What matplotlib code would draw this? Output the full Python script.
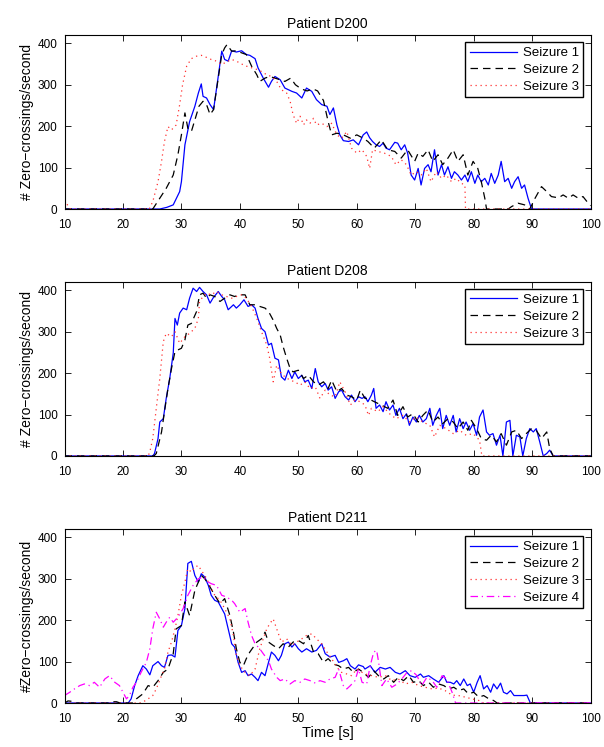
import matplotlib
matplotlib.use("Agg")
import matplotlib.pyplot as plt

plt.rcParams['font.family'] = ['Liberation Sans', 'DejaVu Sans']

# ---- Patient D200 ----
d200_s1_t = [10, 26.3, 27.5, 28.6, 29.7, 30, 30.6, 31.4, 32.3, 32.9, 33.4, 33.7, 34.3, 34.9, 35.5, 36.1, 36.9, 37.4, 38, 38.6,
             39.4, 40.3, 41.1, 41.7, 42.6, 43.1, 44, 44.9, 45.4, 46, 46.9, 47.7, 48.9, 49.7, 50.6, 51.4, 52.3, 53.1, 54, 54.9,
             55.4, 56, 56.6, 57.1, 57.7, 58.6, 59.4, 60.3, 61.1, 61.7, 62.2, 62.7, 63.3, 63.9, 64.5, 65, 65.6, 66.5, 67, 67.6,
             68.2, 68.7, 69.3, 69.9, 70.5, 71, 71.6, 72.2, 72.7, 73.3, 73.9, 74.5, 75, 75.6, 76.2, 76.7, 77.3, 77.9, 78.5, 79,
             79.6, 80.2, 80.7, 81.3, 81.9, 82.5, 83, 83.6, 84.2, 84.7, 85.3, 85.9, 86.5, 87, 87.6, 88.2, 88.7, 89.3, 89.9, 100]
d200_s1_v = [0, 0, 4, 10, 42, 66, 155, 211, 248, 280, 302, 272, 268, 252, 240, 300, 381, 361, 357, 382,
             379, 382, 373, 371, 363, 341, 316, 294, 308, 320, 312, 292, 284, 280, 268, 292, 284, 264, 252, 248,
             228, 244, 203, 179, 165, 163, 167, 155, 179, 186, 172, 163, 155, 151, 159, 147, 143, 161, 159, 143,
             155, 135, 82, 70, 98, 58, 98, 107, 90, 143, 82, 107, 82, 102, 74, 90, 82, 70, 82, 66,
             90, 62, 82, 66, 74, 58, 86, 62, 82, 115, 66, 74, 50, 66, 78, 50, 58, 26, 0, 0]

d200_s2_t = [10, 25.1, 26.3, 27.4, 28.6, 29.4, 30, 30.6, 31.1, 31.7, 32.3, 33, 33.7, 34.3, 34.9, 35.5, 36.3, 36.9, 37.4, 37.8,
             38.6, 39.4, 40.3, 41.1, 42, 42.9, 43.4, 44.3, 45.1, 46, 46.9, 47.7, 48.7, 49.5, 50.5, 51.5, 52.5, 53.3, 54.3, 55.1,
             55.7, 56.6, 57.7, 58.9, 60, 61.1, 61.9, 63, 64.2, 65.3, 66.5, 67.6, 68.7, 69.9, 70.5, 71.3, 72.2, 73, 73.9, 74.7,
             75.6, 76.5, 77.3, 78.2, 79, 79.9, 80.7, 81.3, 81.9, 82.2, 85.9, 86.5, 87.6, 88.7, 89.6, 90.5, 91.6, 92.5, 93.3, 94.5,
             95.3, 96.2, 97, 97.9, 98.7, 99.6, 100]
d200_s2_v = [0, 0, 26, 50, 82, 131, 179, 232, 195, 187, 215, 248, 260, 252, 228, 240, 316, 373, 389, 397,
             381, 382, 377, 373, 345, 324, 308, 316, 320, 316, 312, 308, 316, 300, 290, 285, 290, 285, 262, 211,
             179, 183, 179, 171, 179, 171, 163, 147, 167, 143, 139, 123, 143, 115, 135, 127, 143, 115, 131, 107,
             123, 143, 115, 131, 82, 115, 98, 66, 26, 0, 0, 6, 14, 10, 0, 26, 54, 42, 30, 27,
             34, 26, 34, 26, 30, 14, 8]

d200_s3_t = [10, 10.5, 11, 24.5, 25.1, 26, 26.6, 27.1, 27.7, 28.3, 29.1, 29.7, 30.2, 30.9, 31.7, 32.6, 33.4, 34.3, 35.1, 36,
             36.9, 37.7, 38.6, 39.4, 40.3, 41.1, 42, 42.9, 43.7, 44.6, 45.4, 46.3, 47.1, 48, 48.6, 49.1, 49.7, 50.3, 50.9, 51.4,
             52, 52.6, 53.1, 54, 54.9, 55.7, 56.6, 57.4, 58.3, 59.1, 60, 60.9, 61.7, 62.2, 62.7, 63.6, 64.7, 65.9, 66.7, 67.6,
             68.5, 69.3, 70.2, 71, 71.9, 72.7, 73.6, 74.5, 75.3, 76.2, 77, 77.9, 78.5, 78.6, 100]
d200_s3_v = [22, 10, 0, 0, 18, 66, 115, 163, 199, 191, 203, 252, 300, 345, 363, 369, 371, 366, 361, 357,
             349, 355, 361, 357, 350, 345, 341, 337, 332, 324, 320, 308, 288, 280, 260, 228, 207, 224, 203, 215,
             207, 219, 203, 207, 199, 207, 179, 171, 187, 147, 135, 143, 127, 98, 143, 139, 135, 127, 107, 119,
             107, 82, 90, 82, 98, 66, 90, 74, 82, 66, 74, 62, 58, 0, 0]

# ---- Patient D208 ----
d208_s1_t = [10, 25.1, 25.4, 26, 26.3, 26.9, 27.4, 28, 28.6, 28.9, 29.3, 29.7, 30.3, 30.9, 31.4, 32, 32.6, 33.1, 33.7, 34.3,
             34.9, 35.4, 36.3, 36.9, 37.4, 38, 38.9, 39.4, 40, 40.7, 41.4, 42, 42.6, 43.1, 43.7, 44.3, 44.9, 45.4, 46, 46.6,
             47.1, 47.7, 48.3, 48.9, 49.4, 50, 50.6, 51.1, 51.7, 52.3, 52.9, 53.4, 54, 54.6, 55.1, 55.7, 56.3, 56.9, 57.4, 58,
             58.6, 59.1, 59.7, 60.3, 60.9, 61.4, 61.9, 62.5, 62.9, 63.3, 63.9, 64.5, 65, 65.6, 66.2, 66.7, 67.3, 67.9, 68.5, 69,
             69.6, 70.2, 70.7, 71.3, 71.9, 72.5, 73, 73.6, 74.2, 74.7, 75.3, 75.9, 76.5, 77, 77.6, 78.2, 78.7, 79.3, 79.9, 80.5,
             81, 81.6, 82.2, 82.7, 83.3, 83.9, 84.5, 85, 85.6, 86.2, 86.7, 87.3, 87.9, 88.4, 89, 89.6, 90.2, 90.7, 91.3, 91.9,
             92.5, 93, 93.6, 100]
d208_s1_v = [0, 0, 6, 42, 82, 90, 139, 187, 248, 332, 316, 345, 357, 353, 381, 405, 397, 407, 397, 389,
             369, 381, 397, 385, 377, 353, 365, 357, 365, 377, 361, 365, 357, 332, 308, 300, 268, 272, 236, 232,
             191, 183, 207, 187, 203, 187, 195, 179, 183, 163, 211, 179, 167, 175, 159, 167, 139, 155, 159, 143,
             135, 147, 131, 143, 139, 143, 131, 147, 163, 115, 123, 107, 131, 111, 123, 98, 115, 90, 102, 74,
             94, 82, 98, 82, 90, 115, 74, 98, 115, 66, 98, 74, 98, 58, 90, 66, 82, 62, 78, 50,
             94, 111, 58, 50, 54, 26, 50, 0, 82, 86, 0, 50, 46, 0, 42, 66, 58, 66, 34, 0,
             6, 14, 0, 0]

d208_s2_t = [10, 25.3, 25.7, 26.6, 27.1, 27.7, 28.3, 28.9, 29.4, 30, 30.6, 31.1, 31.7, 32.6, 33.1, 33.7, 34.3, 34.9, 35.7, 36.6,
             37.4, 38.3, 39.1, 40, 40.9, 41.7, 42.6, 43.4, 44.3, 44.9, 45.7, 46.3, 46.9, 47.4, 48, 48.6, 49.1, 50, 50.9, 51.7,
             52.6, 53.4, 54.3, 55.1, 55.7, 56.6, 57.4, 58.3, 59.1, 60, 60.6, 61.4, 61.9, 63, 64.2, 65.3, 66.2, 67, 67.9, 68.7,
             69.6, 70.5, 71.3, 72.2, 73, 73.9, 74.7, 75.6, 76.5, 77.3, 78.2, 79, 79.6, 80.5, 81.3, 82.2, 83, 83.9, 84.7, 85.6,
             86.5, 87.3, 88.2, 89, 89.9, 90.7, 91.6, 92.5, 93, 93.6, 100]
d208_s2_v = [0, 0, 6, 58, 107, 163, 211, 252, 256, 260, 280, 316, 320, 349, 389, 393, 381, 389, 385, 373,
             381, 389, 385, 389, 389, 365, 365, 361, 357, 349, 328, 308, 292, 264, 236, 211, 203, 207, 187, 195,
             179, 171, 179, 163, 183, 155, 163, 147, 143, 135, 159, 139, 139, 131, 123, 115, 135, 98, 119, 94,
             102, 82, 98, 111, 82, 94, 78, 90, 82, 66, 82, 62, 86, 66, 42, 38, 50, 34, 54, 26,
             58, 62, 42, 54, 66, 62, 42, 58, 18, 0, 0]

d208_s3_t = [10, 24.3, 24.6, 25.1, 25.7, 26.3, 26.9, 27.4, 28.3, 28.9, 29.7, 30.6, 31.4, 32.3, 32.9, 33.1, 33.7, 34.3, 35.1, 36,
             36.9, 37.7, 38.6, 39.4, 40.3, 41.1, 42, 42.9, 43.7, 44.6, 45.1, 45.7, 46.3, 46.9, 47.7, 48.6, 49.4, 50.3, 51.1, 52,
             52.9, 53.7, 54.6, 55.4, 56.3, 57.1, 58, 58.9, 59.7, 60.6, 61.4, 62, 62.5, 63.6, 64.5, 65.6, 66.7, 67.9, 69, 70.2,
             71.3, 72.5, 73.3, 74.2, 75.3, 76.5, 77.6, 78.7, 79.9, 81, 81.4, 100]
d208_s3_v = [0, 0, 10, 42, 115, 187, 276, 296, 288, 300, 272, 288, 296, 308, 332, 373, 385, 393, 389, 397,
             389, 385, 381, 385, 389, 381, 361, 332, 300, 268, 236, 179, 219, 203, 191, 183, 179, 171, 179, 163,
             167, 139, 159, 147, 143, 179, 155, 123, 135, 131, 123, 98, 115, 107, 119, 102, 90, 98, 82, 94,
             82, 74, 46, 74, 66, 54, 62, 50, 54, 38, 0, 0]

# ---- Patient D211 ----
d211_s1_t = [10, 20.9, 21.4, 22, 22.6, 23.4, 24, 24.6, 25.1, 26, 26.6, 27.1, 27.7, 28.3, 28.9, 29.4, 30, 30.6, 31.1, 31.7,
             32.3, 32.9, 33.4, 34, 34.6, 35.1, 35.7, 36.3, 36.9, 37.4, 38, 38.6, 39.1, 39.7, 40.3, 40.9, 41.4, 42, 42.6, 43.1,
             43.7, 44.3, 44.9, 45.4, 46, 46.6, 47.1, 47.7, 48.3, 48.9, 49.4, 50, 50.6, 51.4, 52.3, 53.1, 54, 54.6, 55.4, 56.3,
             56.9, 57.7, 58.3, 58.9, 59.7, 60.3, 61.1, 61.4, 62.3, 63.1, 64, 64.9, 65.7, 66.6, 67.4, 68.3, 69.1, 70, 70.9, 71.4,
             72.3, 73.1, 74, 74.9, 75.4, 76, 76.6, 77.1, 77.7, 78.3, 78.9, 79.4, 80, 80.6, 81.1, 81.7, 82.3, 82.9, 83.4, 84,
             84.6, 85.1, 85.7, 86.3, 86.9, 87.7, 88.6, 89.1, 89.7, 100]
d211_s1_v = [0, 0, 10, 42, 66, 90, 82, 68, 90, 100, 90, 86, 115, 116, 111, 175, 187, 228, 337, 342,
             308, 292, 312, 304, 284, 260, 248, 244, 228, 215, 179, 143, 135, 98, 74, 78, 66, 70, 62, 54,
             74, 66, 98, 123, 115, 102, 115, 143, 147, 135, 143, 131, 123, 131, 123, 127, 143, 119, 111, 115,
             98, 102, 107, 90, 82, 92, 88, 82, 90, 74, 86, 82, 86, 74, 70, 78, 66, 62, 70, 62,
             66, 58, 50, 66, 50, 50, 46, 54, 42, 58, 42, 46, 26, 50, 66, 34, 42, 26, 46, 34,
             48, 26, 22, 30, 18, 18, 18, 19, 0, 0]

d211_s2_t = [10, 10.6, 11.3, 12, 17.7, 18.3, 18.9, 19.5, 21.7, 22.3, 23.4, 24.3, 25.1, 26, 26.9, 27.7, 28.6, 29.1, 30, 30.6,
             31.4, 32.3, 32.9, 33.4, 34, 34.9, 35.7, 36.6, 37.4, 38.3, 38.9, 39.4, 40, 40.6, 41.1, 41.7, 42.3, 42.9, 43.7, 44.3,
             44.9, 45.7, 46.6, 47.4, 48.3, 49.1, 50, 50.9, 51.7, 52.6, 53.4, 54.3, 55.1, 56, 56.9, 57.7, 58.6, 59.4, 60.3, 61.1,
             62, 62.9, 63.7, 64.6, 65.4, 66.3, 67.1, 68, 68.9, 69.7, 70.6, 71.4, 72.3, 73.1, 74, 74.9, 75.7, 76.6, 77.4, 78.3,
             79.1, 80, 80.9, 81.7, 82.6, 83.4, 84, 100]
d211_s2_v = [0, 5, 4, 0, 0, 3, 3, 0, 0, 10, 22, 42, 38, 54, 74, 82, 119, 179, 187, 244,
             211, 272, 292, 308, 300, 280, 260, 240, 252, 211, 171, 131, 98, 90, 107, 123, 135, 147, 155, 171,
             147, 139, 131, 143, 135, 147, 151, 143, 163, 123, 119, 98, 107, 94, 90, 82, 86, 74, 82, 74,
             62, 78, 66, 58, 66, 50, 62, 54, 66, 50, 54, 42, 50, 38, 46, 42, 34, 38, 30, 34,
             22, 26, 14, 18, 10, 6, 0, 0]

d211_s3_t = [10, 22.8, 23.4, 24.3, 25.1, 25.7, 26.6, 27.1, 27.7, 28.3, 28.9, 29.4, 30, 30.6, 31.1, 31.7, 32.3, 32.9, 33.4, 34,
             34.6, 35.1, 35.7, 36.6, 37.4, 38.3, 38.9, 39.4, 40, 40.9, 41.7, 42.6, 43.4, 44, 44.6, 45.1, 45.7, 46.3, 47.1, 48,
             48.9, 49.7, 50.6, 51.4, 52.3, 53.1, 54, 54.9, 55.7, 56.6, 57.4, 58.3, 59.1, 60, 60.9, 61.4, 62.6, 63.7, 64.9, 66,
             67.1, 68.3, 69.4, 70.6, 71.7, 72.9, 74, 75.1, 76.3, 77.4, 78.6, 79.7, 80.9, 81.7, 100]
d211_s3_v = [0, 0, 2, 10, 18, 34, 66, 82, 123, 147, 179, 211, 260, 292, 324, 316, 328, 332, 320, 308,
             292, 276, 260, 248, 228, 203, 163, 115, 90, 74, 66, 82, 131, 155, 179, 191, 203, 179, 147, 155,
             139, 147, 155, 163, 167, 155, 143, 123, 107, 86, 74, 70, 66, 82, 74, 70, 66, 62, 66, 54,
             58, 46, 50, 42, 38, 34, 36, 30, 19, 18, 14, 10, 6, 0, 0]

d211_s4_t = [10, 10.9, 11.7, 12.6, 13.4, 14.3, 15.1, 16, 16.9, 17.7, 18.6, 19.4, 20, 20.6, 21.1, 21.7, 22.3, 23.1, 24, 24.6,
             25.1, 25.7, 26.3, 26.9, 27.4, 28, 28.6, 29.4, 30.3, 31.1, 32, 32.9, 33.7, 34.6, 35.1, 36, 36.9, 37.7, 38.6, 39.1,
             40, 40.9, 41.4, 42, 42.6, 43.4, 44, 44.9, 45.4, 46.3, 46.9, 47.7, 48.6, 49.4, 50.3, 51.1, 52, 52.9, 53.7, 54.6,
             55.4, 56.3, 56.9, 57.7, 58.3, 58.9, 59.7, 60.3, 60.9, 61.7, 62.3, 62.9, 63.4, 63.7, 64.3, 65.1, 66, 66.9, 67.7, 68.6,
             69.4, 70.3, 71.1, 72, 72.9, 73.7, 74.6, 75.4, 76.3, 76.9, 100]
d211_s4_v = [18, 26, 34, 42, 46, 42, 50, 38, 58, 66, 50, 42, 26, 10, 18, 38, 50, 74, 98, 131,
             179, 219, 203, 183, 195, 207, 195, 207, 228, 260, 284, 300, 304, 292, 288, 284, 260, 256, 248, 240,
             219, 228, 195, 163, 143, 131, 119, 102, 82, 62, 54, 58, 46, 54, 50, 58, 54, 48, 54, 50,
             58, 62, 82, 42, 34, 42, 54, 82, 50, 46, 90, 123, 127, 102, 42, 58, 38, 46, 58, 74,
             78, 66, 42, 62, 54, 38, 66, 58, 26, 0, 0]

titles = ['Patient D200', 'Patient D208', 'Patient D211']
ylabels = ['# Zero\u2212crossings/second', '# Zero\u2212crossings/second', '#Zero\u2212crossings/second']
panels = [
    [(d200_s1_t, d200_s1_v), (d200_s2_t, d200_s2_v), (d200_s3_t, d200_s3_v)],
    [(d208_s1_t, d208_s1_v), (d208_s2_t, d208_s2_v), (d208_s3_t, d208_s3_v)],
    [(d211_s1_t, d211_s1_v), (d211_s2_t, d211_s2_v), (d211_s3_t, d211_s3_v), (d211_s4_t, d211_s4_v)],
]
labels = ['Seizure 1', 'Seizure 2', 'Seizure 3', 'Seizure 4']
styles = [('#0000ff', '-'), ('black', (0, (6, 4))), ('#ff3030', (0, (1, 3))), ('#ff00ff', (0, (6, 3, 1, 3)))]

fig = plt.figure(figsize=(6.04, 7.47), dpi=100)
bottoms = [0.7202, 0.3896, 0.0589]

for k in range(3):
    ax = fig.add_axes([0.1068, bottoms[k], 0.871, 0.2329])
    for i, (t, v) in enumerate(panels[k]):
        c, ls = styles[i]
        ax.plot(t, v, color=c, linestyle=ls, linewidth=0.9, label=labels[i])
    ax.set_xlim(10, 100)
    ax.set_ylim(0, 420)
    ax.set_xticks(range(10, 101, 10))
    ax.set_yticks(range(0, 401, 100))
    ax.tick_params(direction='in', length=4, width=0.6, top=True, right=True, labelsize=8.5)
    ax.tick_params(axis='x', pad=7)
    ax.tick_params(axis='y', pad=5)
    for s in ax.spines.values():
        s.set_linewidth(0.8)
    ax.set_title(titles[k], fontsize=10, pad=5)
    ax.set_ylabel(ylabels[k], fontsize=10, labelpad=3)
    ax.legend(loc='upper right', fontsize=9.5, fancybox=False, edgecolor='black', framealpha=1,
              handlelength=3.6, handletextpad=0.4, labelspacing=0.35, borderaxespad=0.55, borderpad=0.35)
    if k == 2:
        ax.set_xlabel('Time [s]', fontsize=10.5, labelpad=1)

fig.savefig('out.png', dpi=100)
